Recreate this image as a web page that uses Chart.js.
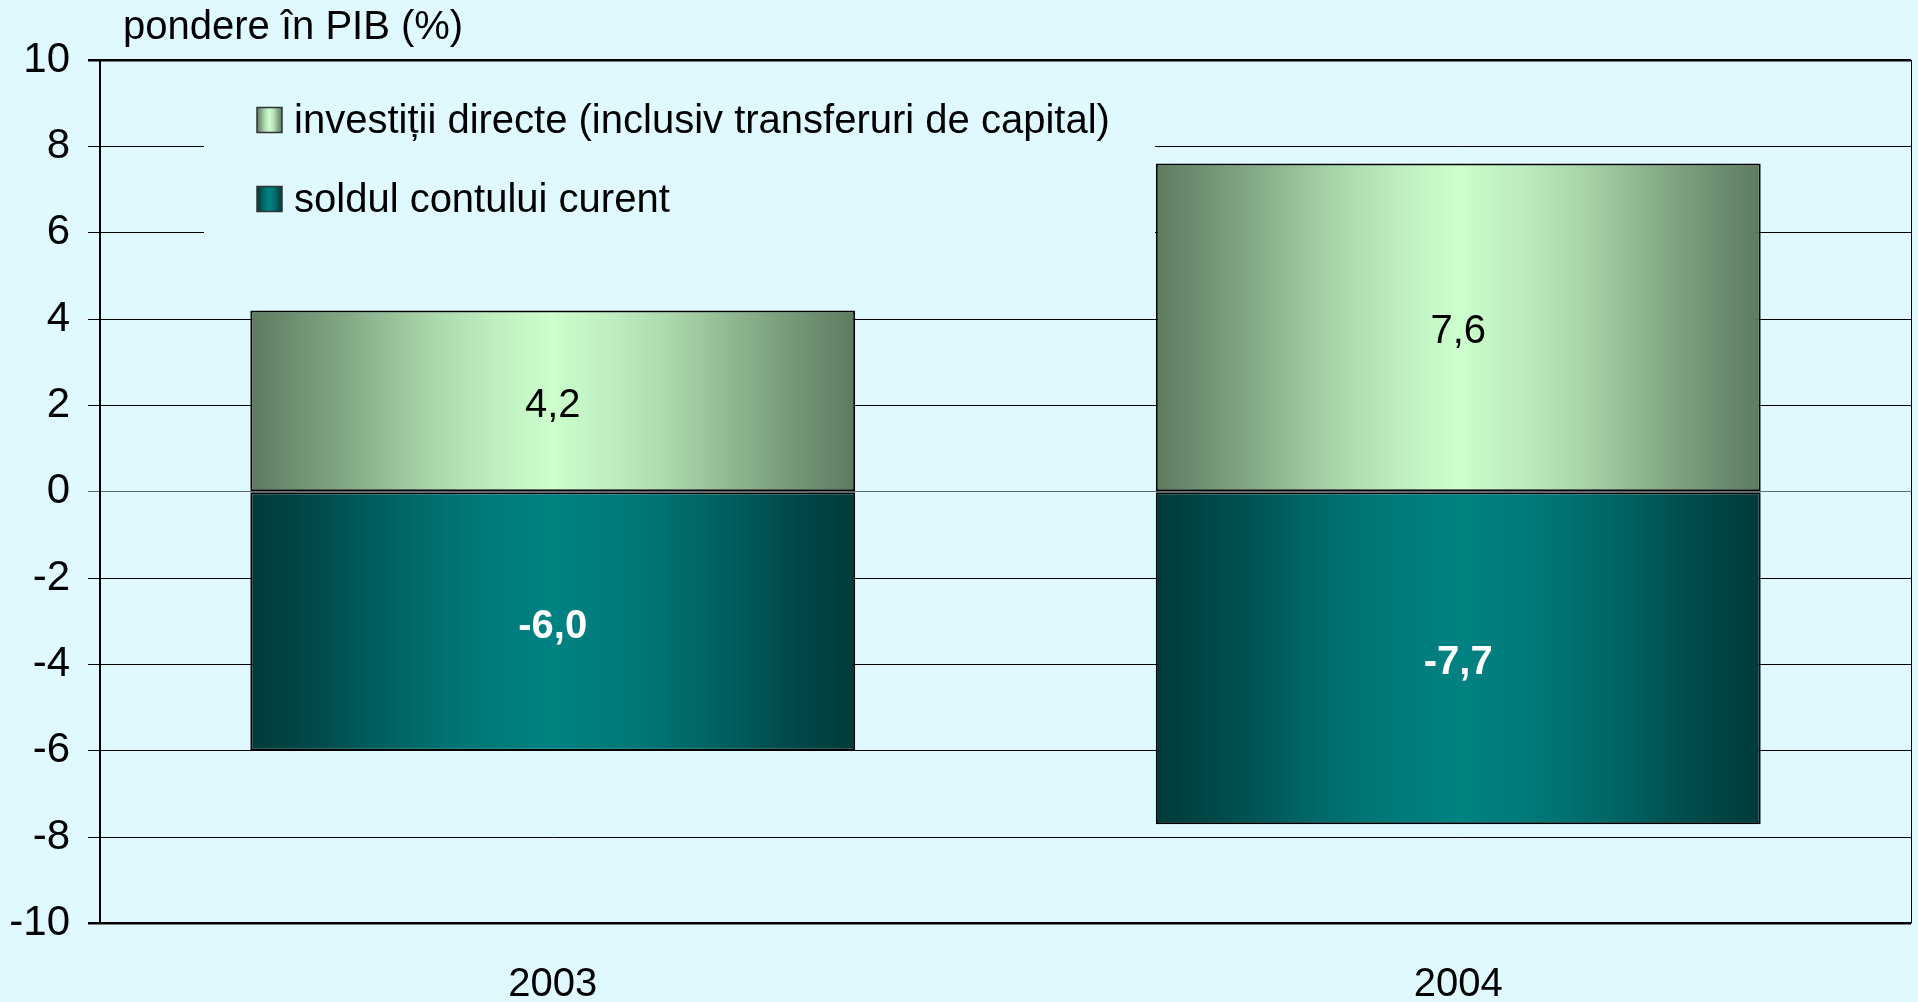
<!DOCTYPE html>
<html>
<head>
<meta charset="utf-8">
<script src="https://cdn.jsdelivr.net/npm/chart.js@4.4.0/dist/chart.umd.min.js"></script>
<style>
html, body { margin: 0; padding: 0; background: #E0F8FF; overflow: hidden; }
#wrap { width: 1918px; height: 1002px; position: relative; }
canvas { display: block; }
</style>
</head>
<body>
<div id="wrap"><canvas id="c" width="1918" height="1002"></canvas></div>
<script>
// ---- data ----
const categories = ['2003', '2004'];
const investitiiDirecte = [4.2, 7.6];
const soldContCurent = [-6.0, -7.7];
const seriesNames = ['investiții directe (inclusiv transferuri de capital)', 'soldul contului curent'];
const yTickValues = [-10, -8, -6, -4, -2, 0, 2, 4, 6, 8, 10];
const yAxisLabel = 'pondere în PIB (%)';

// ---- styles ----
const BG = '#E0F8FF';
const FONT_FAMILY = '"Liberation Sans", Arial, sans-serif';
const FONT_SIZE = 40;
const TICK_FONT_SIZE = 42;
const BAR_PCT = 0.668;
const lightStops = [[0, '#5E7A60'], [0.17, '#86AC88'], [0.3, '#AAD6AB'], [0.4, '#BEEDC0'], [0.5, '#CCFFCC'],
                    [0.6, '#BEEDC0'], [0.7, '#AAD6AB'], [0.83, '#86AC88'], [1, '#5E7A60']];
const darkStops = [[0, '#003A3A'], [0.12, '#004C4C'], [0.24, '#006464'], [0.36, '#007777'], [0.5, '#008282'],
                   [0.64, '#007777'], [0.76, '#006464'], [0.88, '#004C4C'], [1, '#003A3A']];

function barGradient(ctx, stops) {
  const chart = ctx.chart;
  const xs = chart.scales && chart.scales.x;
  if (!xs || !chart.chartArea || ctx.dataIndex === undefined) return stops[4][1];
  const center = xs.getPixelForValue(ctx.dataIndex);
  const catW = (xs.right - xs.left) / categories.length;
  const w = catW * BAR_PCT;
  const g = chart.ctx.createLinearGradient(center - w / 2, 0, center + w / 2, 0);
  stops.forEach(([p, c]) => g.addColorStop(p, c));
  return g;
}

const fmt = v => v.toFixed(1).replace('.', ',');

const decorPlugin = {
  id: 'decor',
  beforeDatasetsDraw(chart) {
    const { ctx } = chart;
    ctx.save();
    // legend box (covers gridlines)
    ctx.fillStyle = BG;
    ctx.fillRect(204, 66, 1155 - 204, 250 - 66);
    ctx.restore();
  },
  afterDatasetsDraw(chart) {
    const { ctx, chartArea } = chart;
    ctx.save();
    // right border of plot
    ctx.strokeStyle = '#000';
    ctx.lineWidth = 1;
    ctx.beginPath();
    ctx.moveTo(chartArea.right + 0.5, chartArea.top);
    ctx.lineTo(chartArea.right + 0.5, chartArea.bottom);
    ctx.stroke();

    // value labels
    ctx.textAlign = 'center';
    ctx.textBaseline = 'middle';
    chart.data.datasets.forEach((ds, di) => {
      const meta = chart.getDatasetMeta(di);
      meta.data.forEach((bar, i) => {
        const v = ds.data[i];
        const y = (bar.y + bar.base) / 2 + 5;
        if (v < 0) {
          ctx.font = 'bold ' + FONT_SIZE + 'px ' + FONT_FAMILY;
          ctx.fillStyle = '#FFFFFF';
        } else {
          ctx.font = FONT_SIZE + 'px ' + FONT_FAMILY;
          ctx.fillStyle = '#000000';
        }
        ctx.fillText(fmt(v), bar.x, y);
      });
    });

    // legend
    const items = [
      { name: seriesNames[0], stops: lightStops, y: 107.5 },
      { name: seriesNames[1], stops: darkStops, y: 186.5 }
    ];
    items.forEach(it => {
      const x0 = 257, s = 25;
      const g = ctx.createLinearGradient(x0, 0, x0 + s, 0);
      it.stops.forEach(([p, c]) => g.addColorStop(p, c));
      ctx.fillStyle = g;
      ctx.fillRect(x0, it.y, s, s);
      ctx.strokeStyle = '#333';
      ctx.lineWidth = 1.5;
      ctx.strokeRect(x0, it.y, s, s);
      ctx.fillStyle = '#000';
      ctx.font = FONT_SIZE + 'px ' + FONT_FAMILY;
      ctx.textAlign = 'left';
      ctx.textBaseline = 'alphabetic';
      ctx.fillText(it.name, 294, it.y + 25.5);
    });

    // axis unit label
    ctx.font = FONT_SIZE + 'px ' + FONT_FAMILY;
    ctx.fillStyle = '#000';
    ctx.textAlign = 'left';
    ctx.textBaseline = 'alphabetic';
    ctx.fillText(yAxisLabel, 123, 39);
    ctx.restore();
  }
};

const chart = new Chart(document.getElementById('c'), {
  type: 'bar',
  data: {
    labels: categories,
    datasets: [
      {
        label: seriesNames[0],
        data: investitiiDirecte,
        backgroundColor: ctx => barGradient(ctx, lightStops),
        borderColor: '#000',
        borderWidth: 2,
        borderSkipped: false,
        barPercentage: BAR_PCT,
        categoryPercentage: 1
      },
      {
        label: seriesNames[1],
        data: soldContCurent,
        backgroundColor: ctx => barGradient(ctx, darkStops),
        borderColor: '#000',
        borderWidth: 2,
        borderSkipped: false,
        barPercentage: BAR_PCT,
        categoryPercentage: 1
      }
    ]
  },
  options: {
    responsive: false,
    animation: false,
    devicePixelRatio: 1,
    layout: { padding: { top: 60, right: 7, left: 0, bottom: 0 } },
    plugins: {
      legend: { display: false },
      title: { display: false },
      tooltip: { enabled: false }
    },
    scales: {
      x: {
        stacked: true,
        grid: { display: false, drawTicks: false },
        border: { display: false },
        ticks: {
          color: '#000',
          font: { family: FONT_FAMILY, size: FONT_SIZE },
          padding: 37
        },
        afterFit: s => { s.height = 78.5; }
      },
      y: {
        stacked: true,
        min: -10,
        max: 10,
        afterBuildTicks: s => { s.ticks = yTickValues.map(v => ({ value: v })); },
        ticks: {
          color: '#000',
          font: { family: FONT_FAMILY, size: TICK_FONT_SIZE },
          padding: 18,
          callback: v => String(v)
        },
        grid: {
          color: c => (c.tick && c.tick.value === 0) ? '#5F7070' : '#000',
          lineWidth: c => (c.tick && Math.abs(c.tick.value) === 10) ? 2.5 : 1,
          tickLength: 12,
          drawTicks: true
        },
        border: { display: true, color: '#000', width: 2 },
        afterFit: s => { s.width = 100; }
      }
    }
  },
  plugins: [decorPlugin]
});
</script>
</body>
</html>
